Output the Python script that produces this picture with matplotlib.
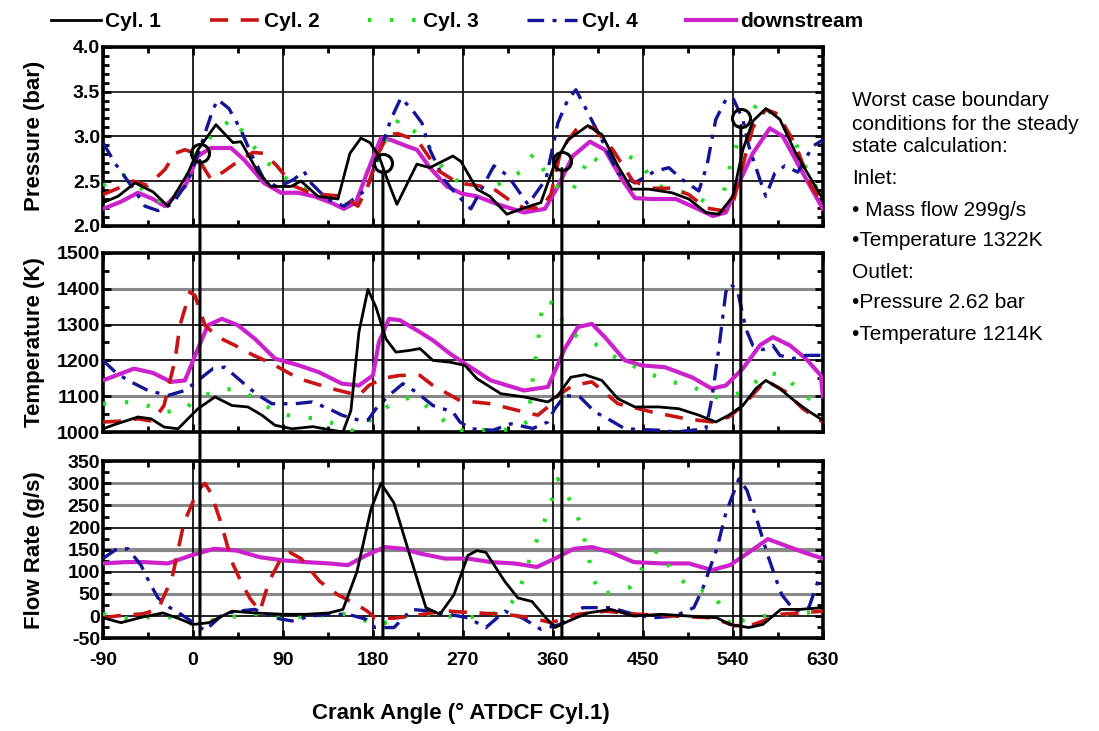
import matplotlib
matplotlib.use("Agg")
import matplotlib.pyplot as plt
from matplotlib.patches import ConnectionPatch
from matplotlib.ticker import MultipleLocator
from matplotlib import font_manager

# ---- data ----
# pressure (bar)
p1_x = [-90,-75,-58,-40,-25,-5,5,23,40,48,65,78,98,108,125,145,157,168,177,186,195,204,224,237,260,268,284,297,314,331,348,362,375,395,409,425,439,456,479,496,513,526,540,550,560,573,587,603,630]
p1 = [2.26,2.33,2.48,2.38,2.22,2.59,2.85,3.13,2.93,2.94,2.6,2.44,2.44,2.5,2.33,2.3,2.81,2.98,2.93,2.78,2.5,2.24,2.69,2.65,2.78,2.72,2.41,2.33,2.13,2.2,2.26,2.7,2.96,3.12,3.02,2.67,2.41,2.41,2.37,2.3,2.15,2.13,2.33,2.85,3.17,3.31,3.19,2.81,2.3]
p2_x = [-90,-75,-60,-45,-28,-18,-8,0,8,18,30,45,60,71,84,100,115,130,150,165,175,185,195,205,225,245,265,284,300,315,331,348,358,368,385,400,420,440,460,480,496,513,530,540,547,560,573,585,603,618,630]
p2 = [2.35,2.42,2.5,2.45,2.63,2.81,2.85,2.82,2.7,2.52,2.6,2.72,2.82,2.81,2.67,2.45,2.38,2.35,2.33,2.22,2.45,2.8,3.02,3.03,2.95,2.62,2.48,2.45,2.42,2.3,2.2,2.2,2.35,2.85,3.1,3.1,2.85,2.5,2.42,2.42,2.35,2.2,2.17,2.25,2.55,3.1,3.3,3.25,2.9,2.45,2.25]
p3_x = [-90,-70,-55,-40,-25,-10,0,10,22,40,53,70,88,106,125,145,163,176,190,206,222,239,255,275,298,315,328,341,352,362,378,388,397,412,429,447,462,480,500,515,526,540,552,565,580,600,615,630]
p3 = [2.45,2.57,2.45,2.3,2.25,2.45,2.75,2.9,3.05,3.2,3.0,2.75,2.57,2.44,2.35,2.3,2.17,2.48,2.9,3.19,3.05,2.85,2.55,2.45,2.44,2.5,2.61,2.81,2.6,2.45,2.37,2.56,2.8,2.65,2.81,2.72,2.46,2.4,2.35,2.25,2.15,2.8,3.1,3.39,3.24,3.0,2.6,2.3]
p4_x = [-90,-78,-58,-48,-35,-20,-5,5,14,20,25,36,48,58,71,85,101,111,118,134,151,174,191,198,208,219,229,237,251,262,278,301,315,335,353,365,375,383,392,409,425,442,462,476,489,506,514,523,533,540,550,556,567,573,582,592,605,620,630]
p4 = [2.93,2.7,2.39,2.22,2.17,2.25,2.5,2.8,3.1,3.3,3.41,3.31,3.07,2.81,2.52,2.43,2.52,2.61,2.48,2.3,2.22,2.41,2.96,3.19,3.43,3.3,3.15,2.85,2.52,2.37,2.19,2.67,2.56,2.24,2.52,3.15,3.41,3.52,3.33,2.96,2.59,2.48,2.61,2.65,2.52,2.39,2.67,3.19,3.41,3.43,3.19,2.89,2.52,2.33,2.59,2.67,2.6,2.89,2.96]
p5_x = [-90,-72,-55,-40,-28,-8,5,18,38,51,71,88,105,121,138,151,163,174,188,198,214,224,237,254,269,284,305,331,352,365,380,397,412,429,442,459,483,499,520,533,546,560,577,590,610,630]
p5 = [2.19,2.27,2.37,2.3,2.22,2.44,2.78,2.87,2.87,2.74,2.48,2.37,2.37,2.33,2.26,2.19,2.26,2.59,2.98,2.96,2.89,2.85,2.65,2.44,2.36,2.33,2.24,2.15,2.19,2.44,2.78,2.94,2.85,2.52,2.31,2.3,2.3,2.22,2.11,2.15,2.48,2.81,3.09,3.0,2.59,2.19]

# temperature (K)
t1_x = [-90,-76,-55,-42,-29,-15,-5,5,22,39,55,69,82,99,120,139,150,158,166,175,183,193,203,217,227,240,257,272,284,308,331,355,365,378,392,409,425,442,466,486,506,523,536,550,563,573,587,603,617,630]
t1 = [1009,1023,1042,1037,1014,1009,1037,1065,1098,1074,1070,1047,1019,1009,1015,1005,1000,1060,1279,1398,1349,1260,1223,1228,1233,1200,1195,1186,1149,1107,1098,1084,1102,1153,1160,1144,1093,1070,1070,1065,1047,1028,1047,1074,1121,1144,1121,1084,1056,1033]
t2_x = [-90,-75,-55,-40,-29,-18,-13,-3,2,12,25,42,60,79,106,139,166,176,190,207,227,240,267,298,331,345,355,365,380,399,412,425,459,493,520,536,550,573,593,610,630]
t2 = [1028,1030,1037,1030,1074,1200,1298,1391,1381,1298,1265,1242,1215,1191,1149,1121,1102,1130,1150,1158,1158,1130,1088,1079,1056,1047,1070,1102,1130,1140,1110,1079,1056,1037,1028,1042,1074,1144,1112,1065,1028]
t3_x = [-90,-69,-50,-30,-10,5,29,49,66,86,106,126,146,163,180,201,220,240,260,280,298,320,335,340,345,350,363,372,385,402,419,440,459,479,499,519,535,555,573,592,610,630]
t3 = [1079,1084,1079,1056,1060,1095,1121,1116,1085,1051,1042,1037,1019,1000,1040,1084,1098,1060,1009,1000,1009,1005,1030,1150,1250,1367,1358,1293,1265,1246,1214,1185,1160,1140,1128,1098,1095,1120,1166,1158,1102,1074]
t4_x = [-90,-76,-62,-45,-25,-8,5,20,32,49,64,79,102,119,136,149,166,175,183,196,210,223,240,260,267,278,300,318,340,355,362,372,387,402,415,432,466,483,513,519,526,533,538,545,553,560,570,580,587,600,613,630]
t4 = [1200,1163,1140,1116,1102,1116,1144,1177,1181,1140,1105,1079,1079,1084,1065,1047,1033,1033,1065,1102,1135,1112,1074,1056,1028,1009,1005,1023,1010,1028,1065,1102,1098,1056,1037,1009,1005,1000,1009,1093,1233,1391,1414,1391,1288,1242,1230,1242,1214,1205,1214,1214]
t5_x = [-90,-75,-59,-40,-22,-8,5,15,29,45,62,82,106,126,149,166,180,186,196,207,227,240,257,272,298,331,355,372,385,399,412,432,449,472,499,519,533,550,567,580,597,613,628,630]
t5 = [1144,1160,1177,1165,1140,1144,1233,1298,1316,1298,1260,1205,1186,1167,1135,1130,1158,1251,1316,1312,1279,1256,1219,1191,1144,1116,1126,1233,1293,1302,1265,1200,1186,1181,1153,1121,1130,1177,1242,1265,1242,1205,1158,1100]

# flow rate (g/s)
f1_x = [-90,-72,-50,-30,-15,0,16,39,62,90,113,136,150,164,178,188,201,219,233,247,261,275,284,293,312,325,339,353,362,376,395,418,441,468,496,524,537,556,570,588,607,630]
f1 = [-4,-15,-2,7,-5,-19,-15,11,7,4,4,7,15,100,241,300,256,122,19,4,48,137,148,144,78,41,33,-4,-26,-11,7,15,0,4,0,-4,-19,-26,-19,15,15,19]
f2_x = [-90,-70,-50,-35,-21,-9,5,12,18,28,39,48,57,67,76,88,97,108,127,145,164,175,182,200,219,238,256,284,312,339,358,385,413,445,482,519,542,561,588,630]
f2 = [-4,2,5,15,85,211,285,300,278,211,122,78,40,11,78,130,144,130,78,48,26,10,-4,-5,0,7,11,7,4,-4,-15,4,11,4,0,-4,-22,-19,4,11]
f3_x = [-90,-60,-30,0,30,60,90,120,150,170,185,210,240,270,300,315,325,332,339,348,357,365,380,389,399,406,420,437,450,465,480,499,519,530,540,550,570,600,630]
f3 = [5,-8,2,-18,-5,5,-5,0,5,-8,-22,0,5,-5,5,20,48,96,144,193,248,310,250,200,100,48,55,65,110,150,100,60,55,15,-30,-10,0,5,10]
f4_x = [-90,-76,-65,-52,-44,-35,-23,-12,-2,12,30,44,62,81,99,118,136,155,173,182,201,219,238,256,275,293,312,330,348,367,390,418,441,459,482,501,510,524,533,546,554,565,575,584,589,602,616,625,630]
f4 = [130,152,152,115,78,41,19,4,-11,-33,4,11,15,-4,-11,0,4,4,-7,-26,-26,15,11,4,-4,-26,11,-5,-30,-19,19,19,4,-4,0,19,63,152,233,310,285,211,137,78,48,11,19,78,85]
f5_x = [-90,-67,-49,-25,-2,21,44,67,90,113,136,155,173,192,210,228,252,275,298,321,344,362,381,399,418,441,468,496,519,537,556,575,593,611,630]
f5 = [119,122,122,119,137,152,148,133,126,122,119,115,137,156,152,141,130,130,122,119,111,130,152,156,144,122,119,119,104,115,144,174,159,144,130]

# circled operating points on the pressure traces
mark_x = [7, 190, 369, 548]
mark_p = [2.81, 2.70, 2.72, 3.20]

labels = ["Cyl. 1", "Cyl. 2", "Cyl. 3", "Cyl. 4", "downstream"]
notes = ["Worst case boundary", "conditions for the steady", "state calculation:",
         "Inlet:", "\u2022 Mass flow 299g/s", "\u2022Temperature 1322K",
         "Outlet:", "\u2022Pressure 2.62 bar", "\u2022Temperature 1214K"]

# ---- styles ----
names = {f.name for f in font_manager.fontManager.ttflist}
narrow = "Liberation Sans Narrow" if "Liberation Sans Narrow" in names else "Liberation Sans"
plt.rcParams["font.family"] = "Liberation Sans"
plt.rcParams["axes.unicode_minus"] = False

styles = [
    dict(color="black", lw=2.0, ls="-", zorder=6),
    dict(color="#c81414", lw=2.6, ls=(0, (5, 3.5)), zorder=5),
    dict(color="#22dd22", lw=3.0, ls=(0, (0.8, 4.5)), zorder=4),
    dict(color="#141496", lw=2.4, ls=(0, (5, 2.5, 1.2, 2.5)), zorder=4),
    dict(color="#cc22cc", lw=3.0, ls="-", zorder=3),
]

fig = plt.figure(figsize=(10.99, 7.31), dpi=100)
ax_p = fig.add_axes([0.0937, 0.691, 0.655, 0.245])
ax_t = fig.add_axes([0.0937, 0.409, 0.655, 0.245])
ax_f = fig.add_axes([0.0937, 0.127, 0.655, 0.242])

panels = [
    (ax_p, [(p1_x, p1), (p2_x, p2), (p3_x, p3), (p4_x, p4), (p5_x, p5)],
     (2.0, 4.0), 0.5, 0.1, "Pressure (bar)",
     {3.5: ("#222222", 1.3), 3.0: ("#111111", 1.3), 2.5: ("#111111", 1.3)}, "%.1f"),
    (ax_t, [(t1_x, t1), (t2_x, t2), (t3_x, t3), (t4_x, t4), (t5_x, t5)],
     (1000, 1500), 100, 50, "Temperature (K)",
     {1400: ("#888888", 2.2), 1300: ("#111111", 1.3), 1200: ("#111111", 1.3),
      1100: ("#888888", 2.2)}, "%d"),
    (ax_f, [(f1_x, f1), (f2_x, f2), (f3_x, f3), (f4_x, f4), (f5_x, f5)],
     (-50, 350), 50, 25, "Flow Rate (g/s)",
     {300: ("#777777", 1.8), 250: ("#888888", 2.2), 200: ("#111111", 1.3),
      150: ("#888888", 3.0), 100: ("#222222", 1.3), 50: ("#888888", 2.2),
      0: ("#111111", 1.3)}, "%d"),
]

for ax, series, ylim, major, minor, ylabel, hgrid, fmt in panels:
    for (xs, ys), st in zip(series, styles):
        ax.plot(xs, ys, color=st["color"], lw=st["lw"], ls=st["ls"], zorder=st["zorder"])
    for yv, (c, w) in hgrid.items():
        ax.axhline(yv, color=c, lw=w, zorder=1)
    for xv in range(0, 630, 90):
        ax.axvline(xv, color="#111111", lw=1.3, zorder=1)
    ax.set_xlim(-90, 630)
    ax.set_ylim(*ylim)
    ax.xaxis.set_major_locator(MultipleLocator(90))
    ax.xaxis.set_minor_locator(MultipleLocator(45))
    ax.yaxis.set_major_locator(MultipleLocator(major))
    ax.yaxis.set_minor_locator(MultipleLocator(minor))
    ax.yaxis.set_major_formatter(plt.FormatStrFormatter(fmt))
    ax.tick_params(which="both", direction="in", top=True, right=True, width=2)
    ax.tick_params(which="major", length=6)
    ax.tick_params(which="minor", length=4)
    for s in ax.spines.values():
        s.set_linewidth(2.6)
    for lab in ax.get_yticklabels():
        lab.set_fontfamily(narrow)
        lab.set_fontweight("bold")
        lab.set_fontsize(14)
    ax.tick_params(axis="y", pad=2)
    bb = ax.get_position()
    fig.text(0.031, bb.y0 + bb.height / 2, ylabel, rotation=90, ha="center",
             va="center", fontsize=16, fontweight="bold")

for ax in (ax_p, ax_t):
    ax.tick_params(axis="x", labelbottom=False)
for lab in ax_f.get_xticklabels():
    lab.set_fontfamily(narrow)
    lab.set_fontweight("bold")
    lab.set_fontsize(14)
ax_f.tick_params(axis="x", pad=10)

# circles and the vertical guide lines that run down through all panels
ax_p.plot(mark_x, mark_p, "o", mfc="none", mec="black", ms=13, mew=2.2, zorder=8)
for mx, mp in zip(mark_x, mark_p):
    con = ConnectionPatch(xyA=(mx, mp - 0.08), coordsA=ax_p.transData,
                          xyB=(mx, -50), coordsB=ax_f.transData,
                          color="black", lw=2.2, zorder=9)
    fig.add_artist(con)

fig.text(0.419, 0.024, "Crank Angle (\u00b0 ATDCF Cyl.1)", ha="center", va="center",
         fontsize=16, fontweight="bold")

handles = [plt.Line2D([], [], color=st["color"], lw=st["lw"], ls=st["ls"]) for st in styles]
fig.legend(handles, labels, loc="center left", bbox_to_anchor=(0.029, 0.97), ncol=5,
           frameon=False, handlelength=2.4, handletextpad=0.2, columnspacing=2.35,
           prop=dict(weight="bold", size=15))

note_y = [101, 124, 147, 178, 210, 240, 272, 303, 334]
for txt, yy in zip(notes, note_y):
    fig.text(852 / 1099, 1 - yy / 731, txt, ha="left", va="center", fontsize=15)

fig.savefig("out.png", dpi=100)
